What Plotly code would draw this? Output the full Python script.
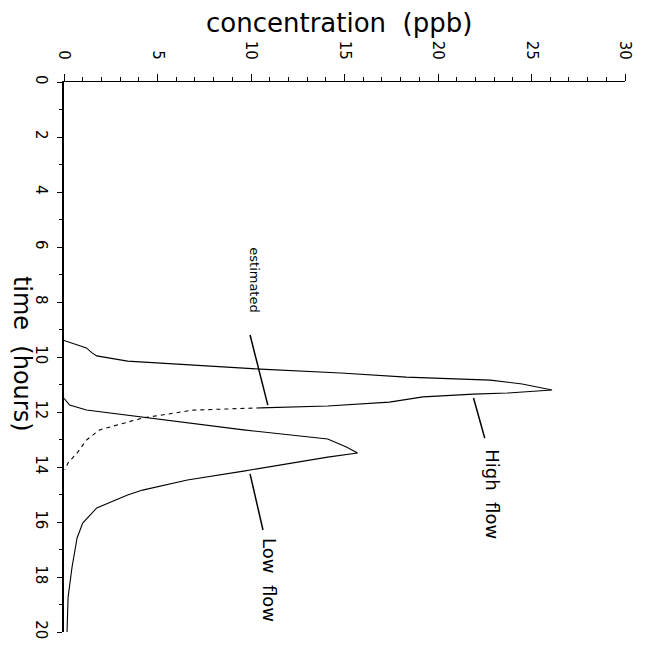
import plotly.graph_objects as go

# High flow (solid part)
high_t = [9.4, 9.67, 9.85, 9.96, 10.15, 10.29, 10.44, 10.58, 10.73, 10.84, 10.98, 11.2,
          11.31, 11.35, 11.45, 11.64, 11.75, 11.78, 11.85]
high_c = [0.0, 1.2, 1.5, 1.75, 3.4, 6.9, 10.5, 14.8, 18.3, 22.8, 24.5, 26.1,
          23.7, 21.9, 19.2, 17.4, 14.8, 14.1, 10.5]
# Estimated (dotted continuation)
est_t = [11.85, 11.93, 12.22, 12.47, 12.65, 13.02, 13.49, 13.85, 14.1]
est_c = [10.5, 6.9, 4.2, 2.8, 1.9, 1.2, 0.7, 0.22, 0.05]
# Low flow
low_t = [11.5, 11.75, 11.93, 12.04, 12.22, 12.65, 12.98, 13.27, 13.49, 13.64, 14.15, 14.47,
         14.84, 15.02, 15.49, 16.04, 16.58, 17.64, 18.73, 20.04]
low_c = [0.0, 0.3, 1.2, 2.45, 4.6, 9.6, 14.1, 15.1, 15.7, 14.1, 9.6, 6.6,
         4.2, 3.4, 1.75, 1.0, 0.7, 0.43, 0.22, 0.16]

# Label annotations: (text, text_c, text_t, pointer start c,t, pointer end c,t)
labels = ["estimated", "High  flow", "Low  flow"]
label_c = [10.2, 22.9, 11.0]
label_t = [7.2, 15.0, 18.1]
label_size = [13, 18, 18]
ptr_c0 = [9.95, 21.9, 9.95]
ptr_t0 = [9.2, 11.49, 14.25]
ptr_c1 = [10.9, 22.5, 10.64]
ptr_t1 = [11.75, 12.95, 16.29]

conc_ticks = [0, 5, 10, 15, 20, 25, 30]
time_ticks = [0, 2, 4, 6, 8, 10, 12, 14, 16, 18, 20]

FONT = "DejaVu Sans"
fig = go.Figure()
fig.add_trace(go.Scatter(x=high_c, y=high_t, mode="lines",
                         line=dict(color="black", width=1.1), showlegend=False))
fig.add_trace(go.Scatter(x=est_c, y=est_t, mode="lines",
                         line=dict(color="black", width=1.1, dash="4px,4px"), showlegend=False))
fig.add_trace(go.Scatter(x=low_c, y=low_t, mode="lines",
                         line=dict(color="black", width=1.1), showlegend=False))

for i in range(len(labels)):
    fig.add_shape(type="line", x0=ptr_c0[i], y0=ptr_t0[i], x1=ptr_c1[i], y1=ptr_t1[i],
                  line=dict(color="black", width=1.5))
    fig.add_annotation(x=label_c[i], y=label_t[i], text=labels[i], showarrow=False,
                       textangle=90, font=dict(family=FONT, size=label_size[i], color="black"))

fig.add_annotation(xref="paper", yref="paper", x=0.49, y=1.107, text="concentration  (ppb)",
                   showarrow=False, font=dict(family=FONT, size=26, color="black"),
                   xanchor="center", yanchor="middle")
fig.add_annotation(xref="paper", yref="paper", x=-0.076, y=0.505, text="time  (hours)",
                   showarrow=False, textangle=90, font=dict(family=FONT, size=24, color="black"),
                   xanchor="center", yanchor="middle")

fig.update_layout(
    width=640, height=641,
    margin=dict(l=56, r=23, t=74, b=17),
    plot_bgcolor="white", paper_bgcolor="white",
    font=dict(family=FONT, color="black"),
)
fig.update_xaxes(range=[0, 30], side="top", tickvals=conc_ticks, ticktext=[str(v) for v in conc_ticks],
                 tickangle=90, ticks="outside", ticklen=7, tickwidth=1, tickcolor="black",
                 minor=dict(dtick=1, ticks="outside", ticklen=4, tickcolor="black"),
                 showline=True, linecolor="black", linewidth=1, showgrid=False, zeroline=False,
                 tickfont=dict(family=FONT, size=15), ticklabelstandoff=9, automargin=False)
fig.update_yaxes(range=[20, 0], tickvals=time_ticks, ticktext=[str(v) for v in time_ticks],
                 tickangle=90, ticks="outside", ticklen=5, tickwidth=1, tickcolor="black",
                 minor=dict(dtick=1, ticks="outside", ticklen=3, tickcolor="black"),
                 showline=True, linecolor="black", linewidth=2, showgrid=False, zeroline=False,
                 tickfont=dict(family=FONT, size=15), ticklabelstandoff=3, automargin=False)

fig.write_html("out.html")
